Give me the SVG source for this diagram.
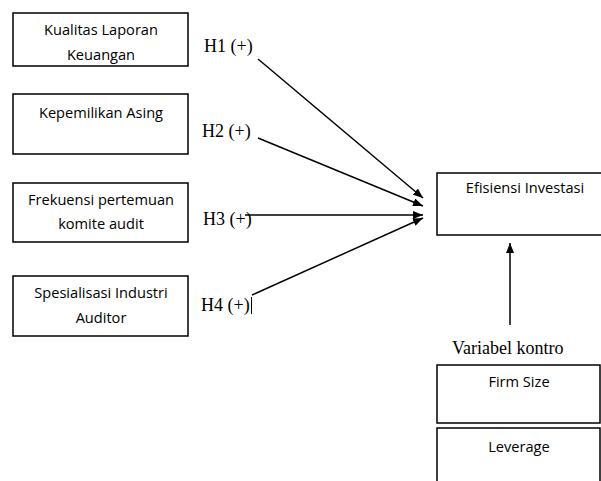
<svg xmlns="http://www.w3.org/2000/svg" width="601" height="481" viewBox="0 0 601 481">
<style>
.box{fill:#fff;stroke:#000;stroke-width:1.5}
.t{font-family:"Open Sans","Liberation Sans",sans-serif;font-size:14.6px;fill:#000;text-anchor:middle}
.h{font-family:"Liberation Serif",serif;font-size:18px;fill:#000}
.c{stroke:#000;stroke-width:1.5;fill:none}
</style>
<defs>
<marker id="ah" markerWidth="10" markerHeight="8" refX="10" refY="4" orient="auto" markerUnits="userSpaceOnUse">
<path d="M0,0 L10,4 L0,8 z" fill="#000"/>
</marker>
</defs>
<rect width="601" height="481" fill="#fff"/>
<g id="n1"><rect class="box" x="13" y="13" width="175" height="53"/><text class="t" x="101" y="35">Kualitas Laporan</text><text class="t" x="101" y="60">Keuangan</text></g>
<g id="n2"><rect class="box" x="13" y="94" width="175" height="60"/><text class="t" x="101" y="118">Kepemilikan Asing</text></g>
<g id="n3"><rect class="box" x="13" y="183" width="175" height="59"/><text class="t" x="101" y="205">Frekuensi pertemuan</text><text class="t" x="101" y="229">komite audit</text></g>
<g id="n4"><rect class="box" x="13" y="276" width="175" height="60"/><text class="t" x="101" y="298">Spesialisasi Industri</text><text class="t" x="101" y="323">Auditor</text></g>
<g id="n5"><rect class="box" x="437" y="173" width="175" height="62"/><text class="t" x="525" y="193">Efisiensi Investasi</text></g>
<g id="n6"><rect class="box" x="437" y="365" width="163" height="58"/><text class="t" x="519" y="387">Firm Size</text></g>
<g id="n7"><rect class="box" x="437" y="428" width="163" height="60"/><text class="t" x="519" y="452">Leverage</text></g>
<g id="labels">
<text class="h" x="204" y="52">H1 (+)</text>
<text class="h" x="202" y="137">H2 (+)</text>
<text class="h" x="203" y="225">H3 (+)</text>
<text class="h" x="201" y="311">H4 (+)</text>
<text class="h" x="452" y="354" font-size="19.5">Variabel kontro</text>
</g>
<g id="connectors">
<line class="c" x1="258" y1="59" x2="423" y2="198" marker-end="url(#ah)"/>
<line class="c" x1="258" y1="138" x2="423" y2="206" marker-end="url(#ah)"/>
<line class="c" x1="245" y1="215" x2="423" y2="215" marker-end="url(#ah)"/>
<line class="c" x1="252" y1="295" x2="423" y2="218" marker-end="url(#ah)"/>
<line class="c" x1="510" y1="325" x2="510" y2="243" marker-end="url(#ah)"/>
<line stroke="#000" stroke-width="1" x1="251.5" y1="297" x2="251.5" y2="314"/>
</g>
</svg>
